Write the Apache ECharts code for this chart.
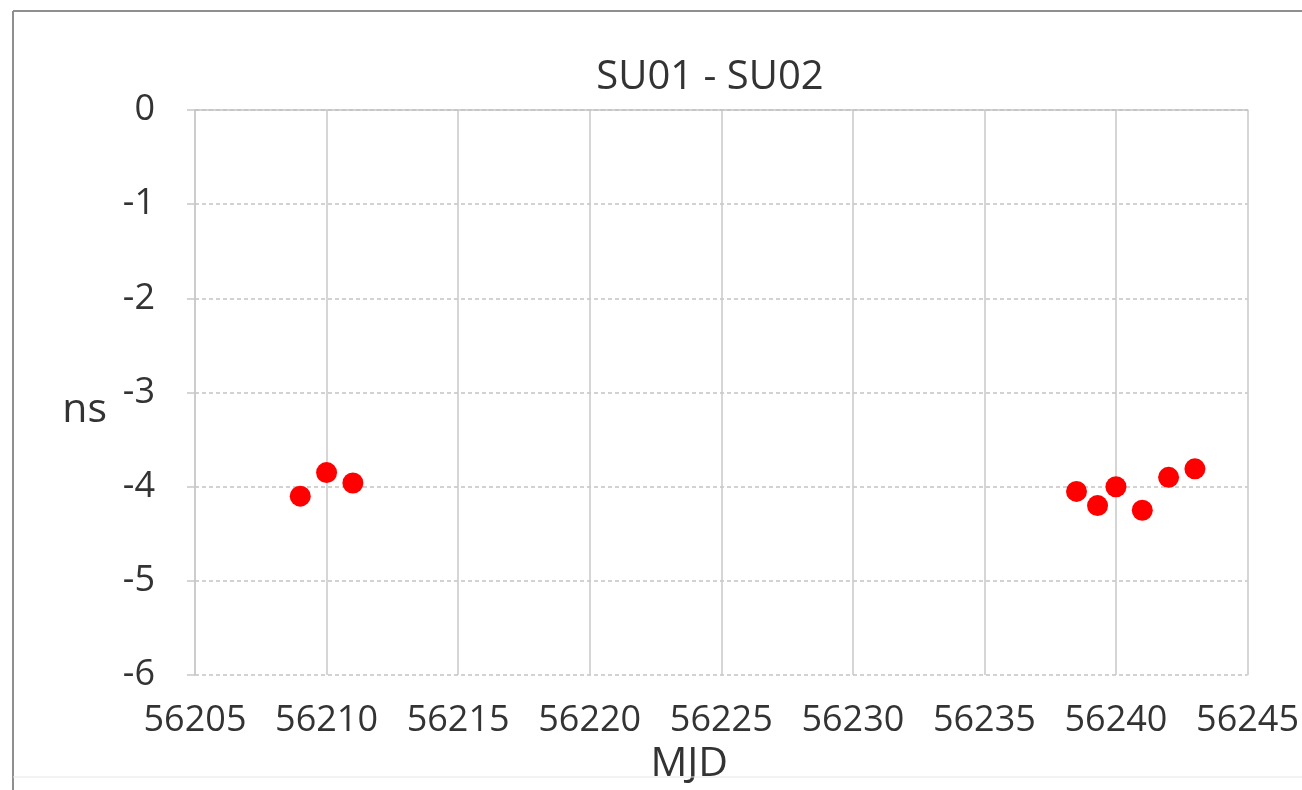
<!DOCTYPE html>
<html>
<head>
<meta charset="utf-8">
<script src="https://cdn.jsdelivr.net/npm/echarts@6/dist/echarts.min.js"></script>
<style>
html,body{margin:0;padding:0;background:#fff;}
#chart{width:1302px;height:790px;}
</style>
</head>
<body>
<div id="chart"></div>
<script>
const titleText = 'SU01 - SU02';
const xName = 'MJD';
const yName = 'ns';
const mjd =    [56209.0, 56210.0, 56211.0, 56238.5, 56239.3, 56240.0, 56241.0, 56242.0, 56243.0];
const offset = [-4.10,   -3.85,   -3.96,   -4.05,   -4.20,   -4.00,   -4.25,   -3.90,   -3.81];
const xMin = 56205, xMax = 56245, xStep = 5;
const yMin = -6, yMax = 0, yStep = 1;

const points = mjd.map((x, i) => [x, offset[i]]);
const font = '"Open Sans", "DejaVu Sans", sans-serif';
const textColor = '#333333';

const chart = echarts.init(document.getElementById('chart'), null, {renderer: 'canvas'});
chart.setOption({
  animation: false,
  backgroundColor: '#ffffff',
  title: {
    text: titleText,
    left: 705,
    textAlign: 'center',
    top: 53,
    textStyle: {fontFamily: font, fontSize: 40, fontWeight: 'normal', color: textColor}
  },
  grid: {left: 195, right: 52, top: 110, bottom: 110, containLabel: false},
  xAxis: [{
    type: 'value', min: xMin, max: xMax, interval: xStep,
    name: xName, nameLocation: 'middle', nameGap: 56,
    nameTextStyle: {fontFamily: font, fontSize: 41, color: textColor, padding: [0, 64, 0, 0]},
    axisLine: {show: true, lineStyle: {color: '#bdbdbd', width: 1.5, type: [4, 3]}},
    axisTick: {show: false},
    axisLabel: {fontFamily: font, fontSize: 36, color: textColor, margin: 28,
      formatter: v => String(v)},
    splitLine: {show: true, lineStyle: {color: '#c8c8c8', width: 1.5}}
  }, {
    type: 'value', min: xMin, max: xMax, interval: xStep, position: 'top',
    axisLine: {show: true, lineStyle: {color: '#c8c8c8', width: 1.5}},
    axisTick: {show: false}, axisLabel: {show: false}, splitLine: {show: false}
  }],
  yAxis: {
    type: 'value', min: yMin, max: yMax, interval: yStep,
    name: yName, nameLocation: 'middle', nameRotate: 0, nameGap: 88,
    nameTextStyle: {fontFamily: font, fontSize: 41, color: textColor, verticalAlign: 'top', lineHeight: 36},
    axisLine: {show: true, lineStyle: {color: '#c8c8c8', width: 1.5}},
    axisTick: {show: true, length: 8, lineStyle: {color: '#c8c8c8', width: 1.5}},
    axisLabel: {fontFamily: font, fontSize: 36, color: textColor, margin: 40,
      formatter: v => String(v)},
    splitLine: {show: true, lineStyle: {color: '#c4c4c4', width: 1.5, type: [4, 3]}}
  },
  graphic: [
    {type: 'line', shape: {x1: 13, y1: 11, x2: 13, y2: 790}, style: {stroke: '#8f8f8f', lineWidth: 2}, z: 10},
    {type: 'line', shape: {x1: 13, y1: 11, x2: 1302, y2: 11}, style: {stroke: '#8f8f8f', lineWidth: 2}, z: 10},
    {type: 'line', shape: {x1: 13, y1: 777, x2: 1302, y2: 777}, style: {stroke: '#e6e6e6', lineWidth: 1}, z: 10}
  ],
  series: [{
    type: 'scatter',
    data: points,
    symbol: 'circle',
    symbolSize: 21,
    itemStyle: {color: '#ff0000', opacity: 1},
    z: 5
  }]
});
</script>
</body>
</html>
